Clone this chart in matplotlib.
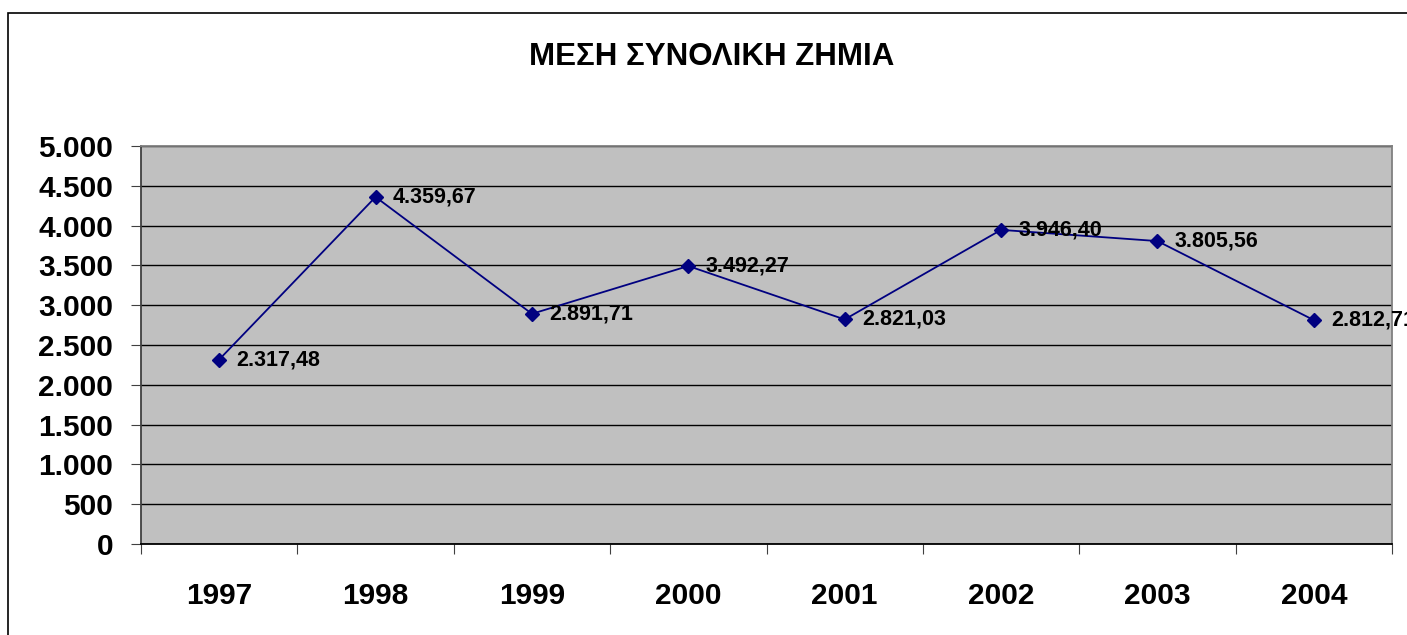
import matplotlib.pyplot as plt
from matplotlib.patches import Rectangle
from matplotlib.ticker import FixedLocator, FuncFormatter

plt.rcParams["font.family"] = ["Liberation Sans", "DejaVu Sans"]
plt.rcParams["font.weight"] = "bold"

years = ["1997", "1998", "1999", "2000", "2001", "2002", "2003", "2004"]
avg_loss = [2317.48, 4359.67, 2891.71, 3492.27, 2821.03, 3946.40, 3805.56, 2812.71]
title = "ΜΕΣΗ ΣΥΝΟΛΙΚΗ ΖΗΜΙΑ"


def greek_num(v, decimals=0):
    s = f"{v:,.{decimals}f}"
    return s.replace(",", "X").replace(".", ",").replace("X", ".")


fig = plt.figure(figsize=(14.07, 6.35), dpi=100)
ax = fig.add_axes([141 / 1407, 1 - 544 / 635, 1251 / 1407, 398 / 635])
ax.set_facecolor("#C0C0C0")

# outer chart border (runs off the right and bottom edges)
fig.patches.append(Rectangle((8 / 1407, -0.05), 1.1, 1.05 - 13 / 635,
                             transform=fig.transFigure, fill=False,
                             edgecolor="black", linewidth=1.2))

x = range(len(years))
ax.plot(x, avg_loss, color="#000080", linewidth=1.3, marker="D",
        markersize=7.5, zorder=3)

for i, v in enumerate(avg_loss):
    ax.annotate(greek_num(v, 2), (i, v), xytext=(12.3, 0),
                textcoords="offset points", va="center", ha="left",
                fontsize=15.5, fontweight="bold", annotation_clip=False,
                zorder=4)

ax.set_xlim(-0.5, len(years) - 0.5)
ax.set_ylim(0, 5000)
ax.set_yticks(range(0, 5001, 500))
ax.yaxis.set_major_formatter(FuncFormatter(lambda v, p: greek_num(v)))
ax.grid(axis="y", color="black", linewidth=1)
ax.set_axisbelow(True)

ax.xaxis.set_major_locator(FixedLocator([i - 0.5 for i in range(len(years) + 1)]))
ax.xaxis.set_major_formatter(FuncFormatter(lambda v, p: ""))
ax.xaxis.set_minor_locator(FixedLocator(list(x)))
ax.set_xticklabels(years, minor=True)
ax.tick_params(axis="x", which="major", direction="out", length=7,
               color="#404040")
ax.tick_params(axis="x", which="minor", length=0, pad=27, labelsize=21.5)
ax.tick_params(axis="y", direction="out", length=7, color="#404040",
               pad=13, labelsize=21.5)

ax.spines["left"].set_color("#404040")
ax.spines["bottom"].set_color("black")
ax.spines["top"].set_color("#808080")
ax.spines["right"].set_color("#808080")
for s in ax.spines.values():
    s.set_linewidth(1.3)

fig.text(712 / 1407, 1 - 57 / 635, title, ha="center", va="center",
         fontsize=22.5, fontweight="bold")

fig.savefig("out.png", dpi=100)
